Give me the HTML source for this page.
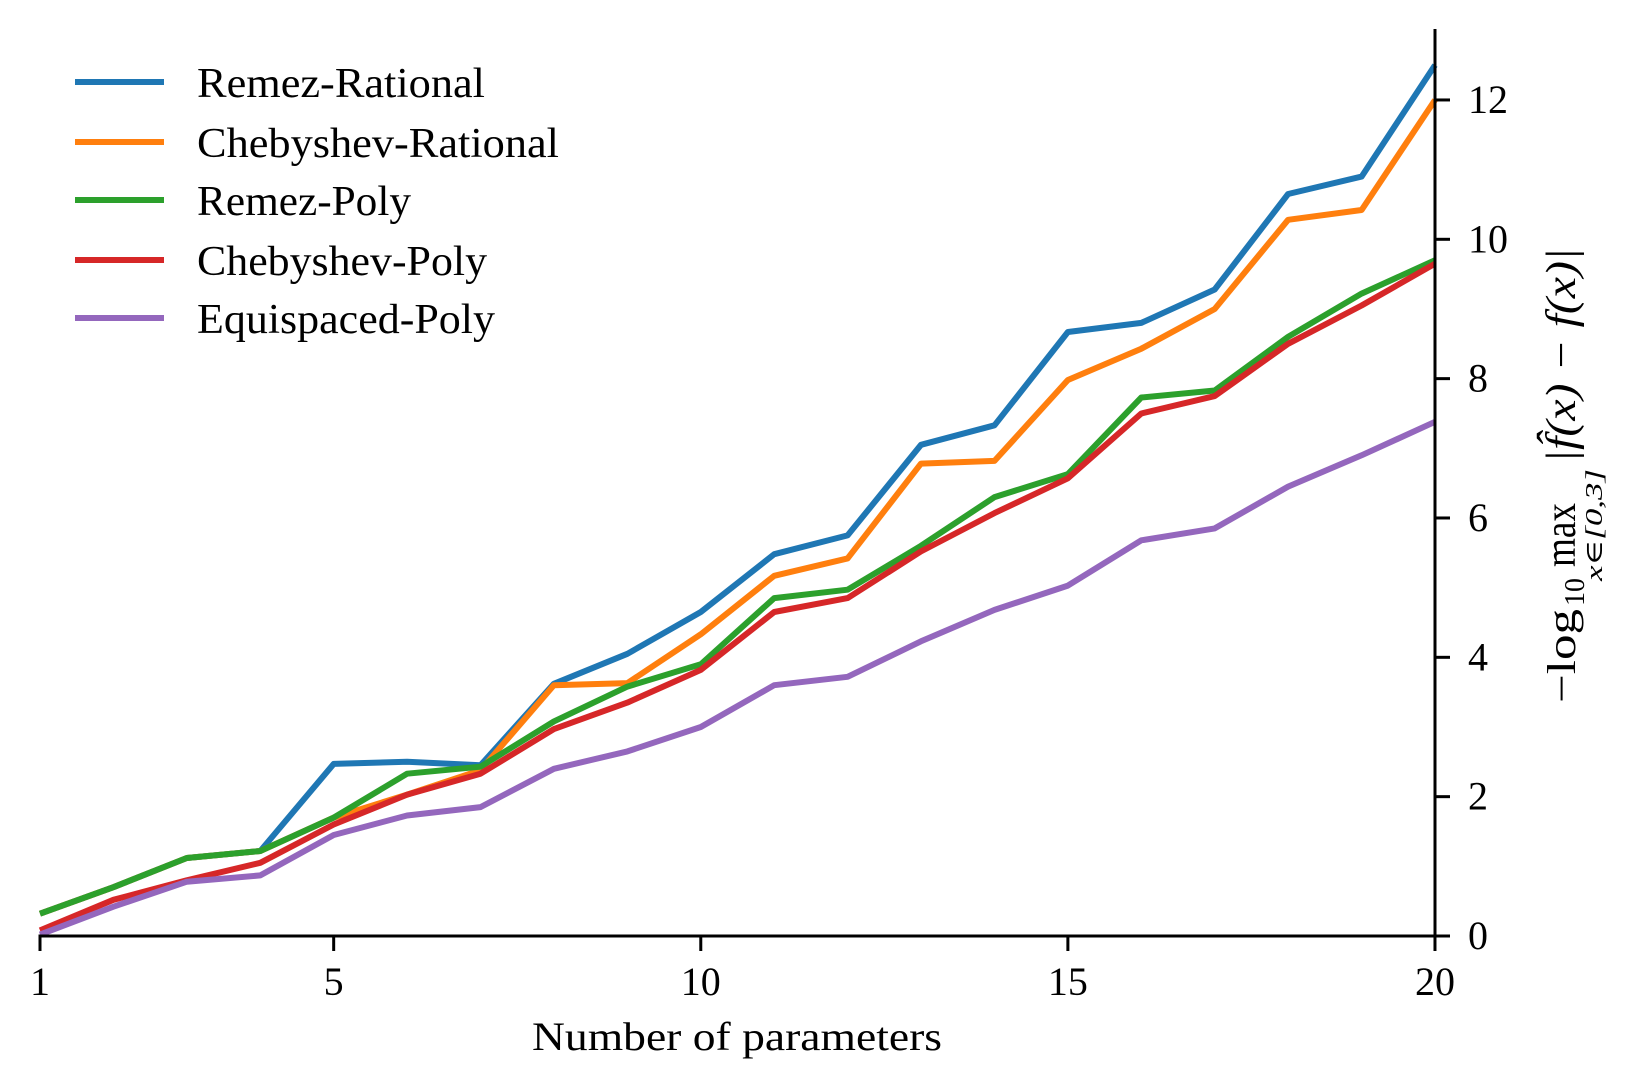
<!DOCTYPE html>
<html><head><meta charset="utf-8"><style>
html,body{margin:0;padding:0;background:#fff}
svg{display:block}
text{font-family:"Liberation Serif","DejaVu Serif",serif;fill:#000}
</style></head><body>
<svg id="s" width="1636" height="1087" viewBox="0 0 1636 1087" xmlns="http://www.w3.org/2000/svg">
<g id="lines" fill="none" stroke-width="6" stroke-linejoin="round" stroke-linecap="butt"></g>
<g stroke="#000" stroke-width="3" fill="none">
<line x1="38.5" y1="936" x2="1436.5" y2="936"/>
<line x1="1435" y1="29" x2="1435" y2="937.5"/>
</g>
<g id="ticks" stroke="#000" stroke-width="3"></g>
<g id="labels" font-size="40"></g>
<text x="737" y="1050" font-size="40" text-anchor="middle" textLength="410" lengthAdjust="spacingAndGlyphs">Number of parameters</text>
<g font-size="42">
<line x1="75" y1="82" x2="164" y2="82" stroke="#1f77b4" stroke-width="6"/>
<line x1="75" y1="142" x2="164" y2="142" stroke="#ff7f0e" stroke-width="6"/>
<line x1="75" y1="200" x2="164" y2="200" stroke="#2ca02c" stroke-width="6"/>
<line x1="75" y1="260" x2="164" y2="260" stroke="#d62728" stroke-width="6"/>
<line x1="75" y1="318" x2="164" y2="318" stroke="#9467bd" stroke-width="6"/>
<text x="197" y="97" textLength="288" lengthAdjust="spacingAndGlyphs">Remez-Rational</text>
<text x="197" y="157" textLength="362" lengthAdjust="spacingAndGlyphs">Chebyshev-Rational</text>
<text x="197" y="215" textLength="214" lengthAdjust="spacingAndGlyphs">Remez-Poly</text>
<text x="197" y="275" textLength="290" lengthAdjust="spacingAndGlyphs">Chebyshev-Poly</text>
<text x="197" y="333" textLength="298" lengthAdjust="spacingAndGlyphs">Equispaced-Poly</text>
</g>
<g transform="translate(1575,703) rotate(-90)">
<text x="0" y="0" font-size="40" textLength="94" lengthAdjust="spacingAndGlyphs">−log</text>
<text x="97" y="9" font-size="28" textLength="28" lengthAdjust="spacingAndGlyphs">10</text>
<text x="136" y="0" font-size="44" textLength="64" lengthAdjust="spacingAndGlyphs">max</text>
<text x="122" y="27" font-size="24" font-style="italic" textLength="112" lengthAdjust="spacingAndGlyphs">x∈[0,3]</text>
<text x="240" y="0" font-size="42" font-style="italic" textLength="215" lengthAdjust="spacingAndGlyphs">|f̂(x) − f(x)|</text>
</g>
</svg>
<script>
var X=function(v){return 40+(v-1)*73.42;};
var Y=function(v){return 936-v*69.67;};
var data=[
["#1f77b4",[0.32,0.7,1.12,1.22,2.47,2.5,2.45,3.62,4.05,4.65,5.48,5.75,7.05,7.33,8.67,8.8,9.28,10.65,10.9,12.5]],
["#ff7f0e",[0.32,0.7,1.12,1.22,1.7,2.03,2.38,3.6,3.63,4.33,5.17,5.42,6.78,6.82,7.98,8.43,9.0,10.28,10.42,12.0]],
["#2ca02c",[0.32,0.7,1.12,1.22,1.7,2.33,2.43,3.08,3.58,3.9,4.85,4.97,5.6,6.3,6.63,7.73,7.83,8.6,9.22,9.7]],
["#d62728",[0.08,0.52,0.8,1.05,1.6,2.03,2.33,2.97,3.35,3.82,4.65,4.85,5.52,6.07,6.57,7.5,7.75,8.5,9.05,9.65]],
["#9467bd",[0.02,0.42,0.78,0.87,1.45,1.73,1.85,2.4,2.65,3.0,3.6,3.72,4.23,4.68,5.03,5.68,5.85,6.45,6.9,7.38]]
];
var ns="http://www.w3.org/2000/svg";
var g=document.getElementById("lines");
data.forEach(function(d){
 var p=document.createElementNS(ns,"polyline");
 p.setAttribute("stroke",d[0]);
 p.setAttribute("points",d[1].map(function(v,i){return X(i+1).toFixed(1)+","+Y(v).toFixed(1);}).join(" "));
 g.appendChild(p);
});
var t=document.getElementById("ticks"),L=document.getElementById("labels");
[1,5,10,15,20].forEach(function(v){
 var l=document.createElementNS(ns,"line");
 l.setAttribute("x1",X(v));l.setAttribute("x2",X(v));l.setAttribute("y1",936);l.setAttribute("y2",951);t.appendChild(l);
 var tx=document.createElementNS(ns,"text");
 tx.setAttribute("x",X(v));tx.setAttribute("y",995);tx.setAttribute("text-anchor","middle");tx.textContent=v;L.appendChild(tx);
});
[0,2,4,6,8,10,12].forEach(function(v){
 var l=document.createElementNS(ns,"line");
 l.setAttribute("x1",1435);l.setAttribute("x2",1450);l.setAttribute("y1",Y(v));l.setAttribute("y2",Y(v));t.appendChild(l);
 var tx=document.createElementNS(ns,"text");
 tx.setAttribute("x",1468);tx.setAttribute("y",Y(v)+13);tx.textContent=v;L.appendChild(tx);
});
</script>
</body></html>
